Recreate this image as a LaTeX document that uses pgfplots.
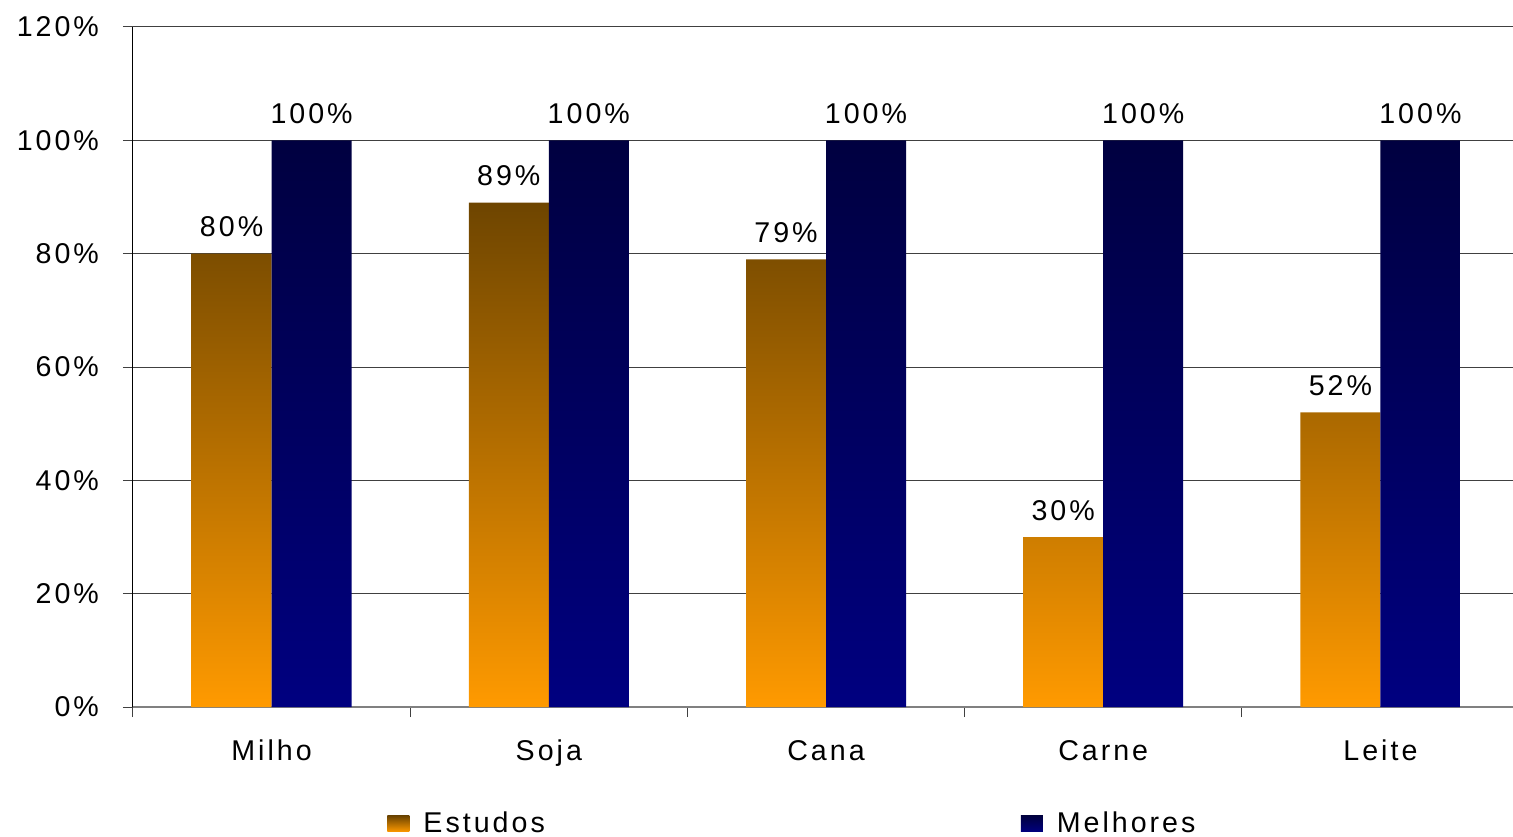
\documentclass[border=0pt]{standalone}
\usepackage{fontspec}
\setmainfont[LetterSpace=10.5]{Liberation Sans}
\usepackage{pgfplots}
\pgfplotsset{compat=1.18}

\definecolor{estTop}{HTML}{6E4500}
\definecolor{estBot}{HTML}{FF9A00}
\definecolor{melTop}{HTML}{000040}
\definecolor{melBot}{HTML}{000080}
\definecolor{gridgray}{HTML}{404040}
\definecolor{axgray}{HTML}{808080}

\begin{document}
\begin{tikzpicture}
\begin{axis}[
    scale only axis,
    width=693pt, height=340pt,
    xmin=-0.5, xmax=4.5,
    ymin=0, ymax=120,
    ybar=0pt, bar width=0.2886,
    font=\fontsize{14.3}{17}\selectfont,
    axis x line*=bottom, axis y line*=left,
    x axis line style={draw=axgray, line width=1pt, -},
    y axis line style={draw=black, line width=0.5pt, -},
    xtick={-0.5,0.5,...,4.5},
    x tick label as interval,
    xticklabels={Milho,Soja,Cana,Carne,Leite},
    ytick={0,20,...,120},
    yticklabels={0\%,20\%,40\%,60\%,80\%,100\%,120\%},
    tick align=outside,
    major tick length=5pt,
    tick style={draw=gridgray, line width=0.5pt},
    xticklabel style={yshift=-8pt},
    yticklabel style={xshift=-8.5pt},
    ymajorgrids,
    major grid style={draw=gridgray, line width=0.5pt},
    /pgf/number format/assume math mode=true,
    nodes near coords={\pgfmathprintnumber{\pgfplotspointmeta}\%},
    every node near coord/.append style={anchor=south, inner sep=0pt, yshift=8pt, text=black},
    legend columns=2,
    legend style={at={(axis description cs:0.1833,-0.172)}, anchor=west,
        draw=none, fill=none, inner sep=0pt,
        /tikz/every odd column/.append style={column sep=5pt},
        /tikz/every even column/.append style={column sep=236pt}},
    legend image code/.code={\path[#1] (0pt,-4pt) rectangle (11pt,4pt);},
]
\coordinate (O) at (rel axis cs:0,0);
\addplot[draw=none, top color=estTop, bottom color=estBot]
    coordinates {(0,80) (1,89) (2,79) (3,30) (4,52)};
\addplot[draw=none, top color=melTop, bottom color=melBot]
    coordinates {(0,100) (1,100) (2,100) (3,100) (4,100)};
\legend{Estudos, Melhores}
\end{axis}
\pgfresetboundingbox
\path[use as bounding box] (O) ++(-66.5pt,-64.5pt) rectangle ++(756.5pt,418pt);
\end{tikzpicture}
\end{document}
